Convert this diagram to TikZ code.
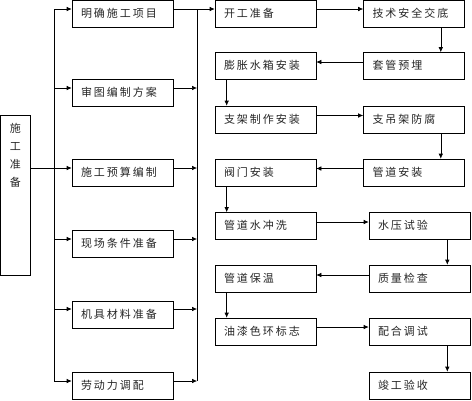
\documentclass[tikz,border=0pt]{standalone}
\usepackage{fontspec}
\newfontfamily\cjk[LetterSpace=18]{Noto Sans CJK SC}
\usetikzlibrary{arrows.meta}

\begin{document}
\begin{tikzpicture}[x=1pt, y=-1pt, ->, >={Latex[length=5pt,width=4.5pt]}, line width=0.6pt,
	taskbox/.style={draw, fill=white, text=black!85, font=\cjk\fontsize{11}{13}\selectfont, text width=83pt, align=left, inner xsep=9pt, inner ysep=0pt, minimum height=27pt, text height=9pt, text depth=2pt}]
		\useasboundingbox (0,0) rectangle (472,400);
		% preparation column
		\node [draw, text=black!85, font=\cjk\fontsize{11}{18}\selectfont, align=center, inner xsep=0pt, inner ysep=8pt, minimum width=29.5pt, text depth=81pt, anchor=north] (prep) at (15.25,115) {施\\工\\准\\备};
		\node [taskbox] (m1) at (122.5,13.8) {明确施工项目};
		\node [taskbox] (m2) at (122.5,93) {审图编制方案};
		\node [taskbox] (m3) at (122.5,173) {施工预算编制};
		\node [taskbox] (m4) at (122.5,243.5) {现场条件准备};
		\node [taskbox] (m5) at (122.5,314.5) {机具材料准备};
		\node [taskbox] (m6) at (122.5,385.5) {劳动力调配};
		% installation steps
		\node [taskbox] (a1) at (265.5,13.8) {开工准备};
		\node [taskbox] (b1) at (414,13.8) {技术安全交底};
		\node [taskbox] (b2) at (414,66) {套管预埋};
		\node [taskbox] (a2) at (265.5,66) {膨胀水箱安装};
		\node [taskbox] (a3) at (265.5,119.5) {支架制作安装};
		\node [taskbox] (b3) at (414,119.5) {支吊架防腐};
		\node [taskbox] (b4) at (414,172.5) {管道安装};
		\node [taskbox] (a4) at (265.5,172.5) {阀门安装};
		\node [taskbox] (a5) at (265.5,226) {管道水冲洗};
		\node [taskbox] (b5) at (419.5,226) {水压试验};
		\node [taskbox] (b6) at (419.5,278.5) {质量检查};
		\node [taskbox] (a6) at (265.5,278.5) {管道保温};
		\node [taskbox] (a7) at (265.5,331.5) {油漆色环标志};
		\node [taskbox] (b7) at (419.5,331.5) {配合调试};
		\node [taskbox] (b8) at (419.5,385.5) {竣工验收};
		
		\coordinate (t1) at (54,9);
		\coordinate (t2) at (54,88);
		\coordinate (t3) at (54,168);
		\coordinate (t4) at (54,239);
		\coordinate (t5) at (54,309);
		\coordinate (t6) at (54,381);
		\coordinate (r1) at (197,9);
		\coordinate (r2) at (197,88);
		\coordinate (r3) at (197,168);
		\coordinate (r4) at (197,239);
		\coordinate (r5) at (197,309);
		\coordinate (r6) at (197,381);
		
		\draw [-] (t1) -- (t6);
		\draw [-] (prep.east |- t3) -- (t3);
		\draw (t1) -- (t1 -| m1.west);
		\draw (t2) -- (t2 -| m2.west);
		\draw (t3) -- (t3 -| m3.west);
		\draw (t4) -- (t4 -| m4.west);
		\draw (t5) -- (t5 -| m5.west);
		\draw (t6) -- (t6 -| m6.west);
		
		\draw [-] (r1) -- (r6);
		\draw [-] (m1.east |- r1) -- (r1);
		\draw (r1) -- (r1 -| a1.west);
		\draw (m2.east |- r2) -- (r2);
		\draw (m3.east |- r3) -- (r3);
		\draw (m4.east |- r4) -- (r4);
		\draw (m5.east |- r5) -- (r5);
		\draw (m6.east |- r6) -- (r6);
		
		\draw ([yshift=4.8pt]a1.east) -- ([yshift=4.8pt]b1.west);
		\draw ([xshift=-24pt]b1.south east) -- ([xshift=-24pt]b2.north east);
		\draw ([yshift=4pt]b2.west) -- ([yshift=4pt]a2.east);
		\draw ([xshift=12pt]a2.south west) -- ([xshift=12pt]a3.north west);
		\draw ([yshift=4pt]a3.east) -- ([yshift=4pt]b3.west);
		\draw ([xshift=-24pt]b3.south east) -- ([xshift=-24pt]b4.north east);
		\draw ([yshift=4pt]b4.west) -- ([yshift=4pt]a4.east);
		\draw ([xshift=12pt]a4.south west) -- ([xshift=12pt]a5.north west);
		\draw ([yshift=4pt]a5.east) -- ([yshift=4pt]b5.west);
		\draw ([xshift=-23pt]b5.south east) -- ([xshift=-23pt]b6.north east);
		\draw ([yshift=3.5pt]b6.west) -- ([yshift=3.5pt]a6.east);
		\draw ([xshift=12pt]a6.south west) -- ([xshift=12pt]a7.north west);
		\draw ([yshift=4.5pt]a7.east) -- ([yshift=4.5pt]b7.west);
		\draw ([xshift=-23pt]b7.south east) -- ([xshift=-23pt]b8.north east);
		
\end{tikzpicture}
\end{document}
